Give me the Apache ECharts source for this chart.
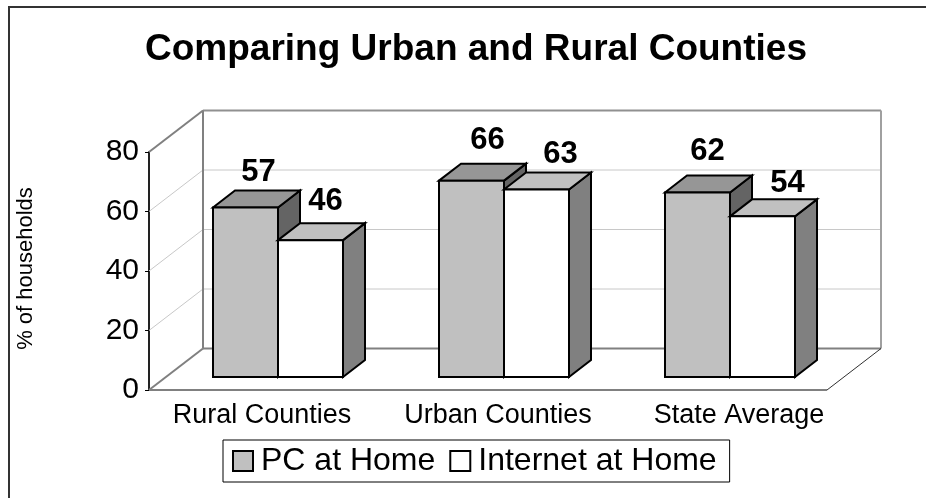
<!DOCTYPE html>
<html><head><meta charset="utf-8">
<style>html,body{margin:0;padding:0;background:#fff}#c{width:926px;height:498px}</style>
<script src="https://cdn.jsdelivr.net/npm/echarts@6/dist/echarts.min.js"></script>
</head><body><div id="c"></div>
<script>
const titleText = 'Comparing Urban and Rural Counties';
const yAxisName = '% of households';
const categories = ['Rural Counties', 'Urban Counties', 'State Average'];
const pcAtHome = [57, 66, 62];
const internetAtHome = [46, 63, 54];
const yTicks = [0, 20, 40, 60, 80];

const FONT = '"Liberation Sans", Arial, sans-serif';
const WALL = { dx: 54, dy: -41.5 };
const BAR_NEAR = { dx: 16, dy: -13 };
const BAR_DEPTH = { dx: 22, dy: -17 };
const BAR_FRACTION = 65 / 226;
const LABEL_NUDGE = { 'PC at Home': [[13, -35], [16, -40], [10, -41]], 'Internet at Home': [[15, -39], [24, -35], [25, -33]] };
const CATEGORY_LABEL_SHIFT = [0, 10, 25];

function poly(points, fill, lw) {
  return { type: 'polygon', shape: { points }, style: { fill, stroke: '#000', lineWidth: lw, lineJoin: 'miter' } };
}
function seg(x1, y1, x2, y2, stroke, lineWidth) {
  return { type: 'line', shape: { x1, y1, x2, y2 }, style: { stroke, lineWidth } };
}
function barRenderer(slot, front, top, side, name) {
  return function (params, api) {
    const i = api.value(0), v = api.value(1);
    const base = api.coord([i, 0]), head = api.coord([i, v]);
    const w = api.size([1, 0])[0] * BAR_FRACTION;
    const x0 = base[0] + BAR_NEAR.dx + (slot - 1) * w;
    const x1 = x0 + w;
    const yb = base[1] + BAR_NEAR.dy;
    const yt = head[1] + BAR_NEAR.dy;
    const dx = BAR_DEPTH.dx, dy = BAR_DEPTH.dy;
    const nudge = LABEL_NUDGE[name][i];
    return { type: 'group', children: [
      poly([[x1, yb], [x1 + dx, yb + dy], [x1 + dx, yt + dy], [x1, yt]], side, 2),
      poly([[x0, yt], [x0 + dx, yt + dy], [x1 + dx, yt + dy], [x1, yt]], top, 2),
      poly([[x0, yb], [x1, yb], [x1, yt], [x0, yt]], front, 2),
      { type: 'text', style: { text: String(v), x: (x0 + x1) / 2 + nudge[0], y: yt + nudge[1], align: 'center', verticalAlign: 'middle',
        font: 'bold 31px ' + FONT, fill: '#000' } }
    ] };
  };
}
function wallRenderer(params, api) {
  const r = params.coordSys;
  const L = r.x, R = r.x + r.width, T = r.y, B = r.y + r.height;
  const d = WALL;
  const kids = [];
  yTicks.forEach(t => {
    if (t === 0 || t === 80) return;
    const y = api.coord([0, t])[1];
    kids.push(seg(L, y, L + d.dx, y + d.dy, '#c8c8c8', 1));
    kids.push(seg(L + d.dx, y + d.dy, R + d.dx, y + d.dy, '#c8c8c8', 1));
  });
  kids.push(seg(L, T, L + d.dx, T + d.dy, '#808080', 2));
  kids.push(seg(L + d.dx, T + d.dy, R + d.dx, T + d.dy, '#909090', 2));
  kids.push(seg(R + d.dx, T + d.dy, R + d.dx, B + d.dy, '#a0a0a0', 2));
  kids.push(seg(L + d.dx, T + d.dy, L + d.dx, B + d.dy, '#808080', 2));
  kids.push(seg(L + d.dx, B + d.dy, R + d.dx, B + d.dy, '#808080', 2));
  kids.push(seg(L, B, L + d.dx, B + d.dy, '#808080', 2));
  kids.push(seg(R, B, R + d.dx, B + d.dy, '#303030', 1));
  kids.push(seg(L, B, R, B, '#808080', 2));
  return { type: 'group', children: kids };
}
const chart = echarts.init(document.getElementById('c'), null, { renderer: 'canvas' });
chart.setOption({
  animation: false,
  backgroundColor: '#fff',
  title: { text: titleText, left: 471, top: 26, textAlign: 'center',
    textStyle: { fontFamily: FONT, fontWeight: 'bold', fontSize: 37, color: '#000' } },
  graphic: [{ type: 'rect', shape: { x: 9, y: 7, width: 930, height: 500 }, style: { fill: 'none', stroke: '#333', lineWidth: 2 }, silent: true }],
  grid: { left: 149, right: 99, top: 152, bottom: 108 },
  legend: {
    show: true, left: 223, top: 440, width: 600, orient: 'horizontal',
    padding: [5, 13, 5, 9], itemGap: 14, itemWidth: 20, itemHeight: 20,
    borderColor: '#000', borderWidth: 1,
    textStyle: { fontFamily: FONT, fontSize: 32, color: '#000', padding: [0, 0, 0, 3] },
    data: [
      { name: 'PC at Home', icon: 'rect', itemStyle: { color: '#c0c0c0', borderColor: '#000', borderWidth: 2 } },
      { name: 'Internet at Home', icon: 'rect', itemStyle: { color: '#fff', borderColor: '#000', borderWidth: 2 } }
    ]
  },
  xAxis: { type: 'category',
    data: categories.map((value, i) => ({ value, textStyle: { padding: [0, 0, 0, CATEGORY_LABEL_SHIFT[i] * 2] } })),
    axisLine: { show: false }, axisTick: { show: false }, splitLine: { show: false },
    axisLabel: { fontFamily: FONT, fontSize: 27, color: '#000', margin: 12, interval: 0 } },
  yAxis: { type: 'value', min: 0, max: 80, interval: 20,
    name: yAxisName, nameLocation: 'middle', nameGap: 112, nameRotate: 90,
    nameTextStyle: { fontFamily: FONT, fontSize: 22, color: '#000', padding: [0, 0, 0, 5] },
    axisLine: { show: true, lineStyle: { color: '#222', width: 2 } },
    axisTick: { show: true, length: 4, lineStyle: { color: '#000', width: 1 } },
    splitLine: { show: false },
    axisLabel: { fontFamily: FONT, fontSize: 30, color: '#000', margin: 10 } },
  series: [
    { type: 'custom', name: 'walls', silent: true, z: 1, renderItem: wallRenderer, data: [[0, 0]], encode: { x: 0, y: 1 } },
    { type: 'custom', name: 'PC at Home', z: 2, renderItem: barRenderer(0, '#c0c0c0', '#969696', '#646464', 'PC at Home'),
      data: pcAtHome.map((v, i) => [i, v]), encode: { x: 0, y: 1 }, itemStyle: { color: '#c0c0c0' } },
    { type: 'custom', name: 'Internet at Home', z: 3, renderItem: barRenderer(1, '#fff', '#c0c0c0', '#808080', 'Internet at Home'),
      data: internetAtHome.map((v, i) => [i, v]), encode: { x: 0, y: 1 }, itemStyle: { color: '#fff' } }
  ]
});
</script></body></html>
